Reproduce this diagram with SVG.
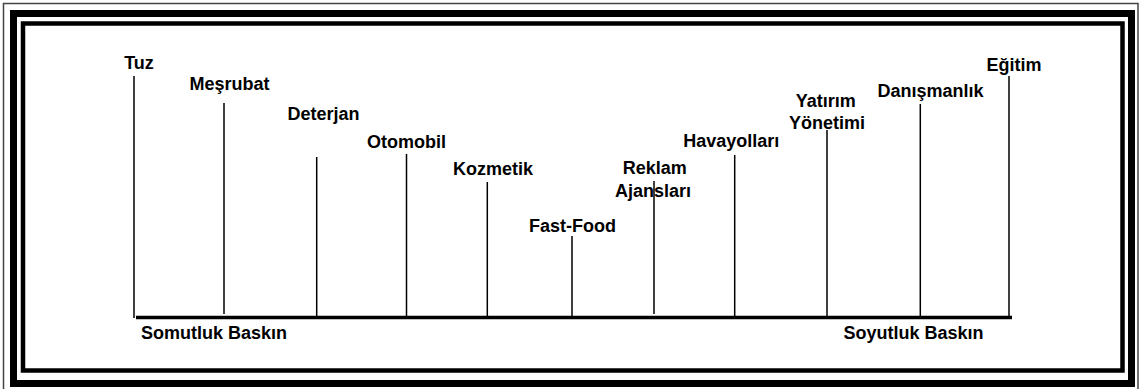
<svg xmlns="http://www.w3.org/2000/svg" width="1140" height="389" viewBox="0 0 1140 389">
<style>
.lbl{font-family:"Liberation Sans",Arial,sans-serif;font-weight:bold;font-size:18px;fill:#000;text-anchor:middle}
.axl{font-family:"Liberation Sans",Arial,sans-serif;font-weight:bold;font-size:18px;fill:#000}
.tick{stroke:#000;stroke-width:1.5;fill:none}
</style>
<rect width="1140" height="389" fill="#fff"/>
<g id="frame" fill="none">
<rect x="3.5" y="3.5" width="1134.5" height="390" stroke="#444" stroke-width="1.5"/>
<rect x="13.5" y="13.5" width="1118" height="370" stroke="#000" stroke-width="7"/>
<rect x="23" y="23.5" width="1099.5" height="347" stroke="#000" stroke-width="4.5"/>
</g>
<g id="connectors">
<line x1="136" y1="317.5" x2="1012" y2="317.5" stroke="#000" stroke-width="3.5"/>
<line class="tick" x1="134" y1="76" x2="134" y2="318"/>
<line class="tick" x1="224" y1="103" x2="224" y2="314"/>
<line class="tick" x1="316.7" y1="157" x2="316.7" y2="317"/>
<line class="tick" x1="406.5" y1="154" x2="406.5" y2="317"/>
<line class="tick" x1="487.3" y1="182" x2="487.3" y2="317"/>
<line class="tick" x1="572" y1="236" x2="572" y2="317"/>
<line class="tick" x1="654" y1="181" x2="654" y2="314"/>
<line class="tick" x1="734.7" y1="155" x2="734.7" y2="317"/>
<line class="tick" x1="827" y1="130" x2="827" y2="317"/>
<line class="tick" x1="920.3" y1="104" x2="920.3" y2="317"/>
<line class="tick" x1="1009" y1="76" x2="1009" y2="317"/>
</g>
<g id="n-tuz"><text class="lbl" x="139" y="69">Tuz</text></g>
<g id="n-mesrubat"><text class="lbl" x="229.5" y="90">Meşrubat</text></g>
<g id="n-deterjan"><text class="lbl" x="323.5" y="120">Deterjan</text></g>
<g id="n-otomobil"><text class="lbl" x="406.5" y="148">Otomobil</text></g>
<g id="n-kozmetik"><text class="lbl" x="493" y="175">Kozmetik</text></g>
<g id="n-fastfood"><text class="lbl" x="572.5" y="231.5">Fast-Food</text></g>
<g id="n-reklam"><text class="lbl" x="654.7" y="174">Reklam</text><text class="lbl" x="653" y="197">Ajansları</text></g>
<g id="n-havayollari"><text class="lbl" x="731.3" y="146.5">Havayolları</text></g>
<g id="n-yatirim"><text class="lbl" x="825.7" y="106.5">Yatırım</text><text class="lbl" x="827" y="128.5">Yönetimi</text></g>
<g id="n-danismanlik"><text class="lbl" x="930.5" y="96.5">Danışmanlık</text></g>
<g id="n-egitim"><text class="lbl" x="1014" y="70.5">Eğitim</text></g>
<g id="n-somutluk"><text class="axl" x="141" y="339">Somutluk Baskın</text></g>
<g id="n-soyutluk"><text class="axl" x="843.5" y="338.5">Soyutluk Baskın</text></g>
</svg>
